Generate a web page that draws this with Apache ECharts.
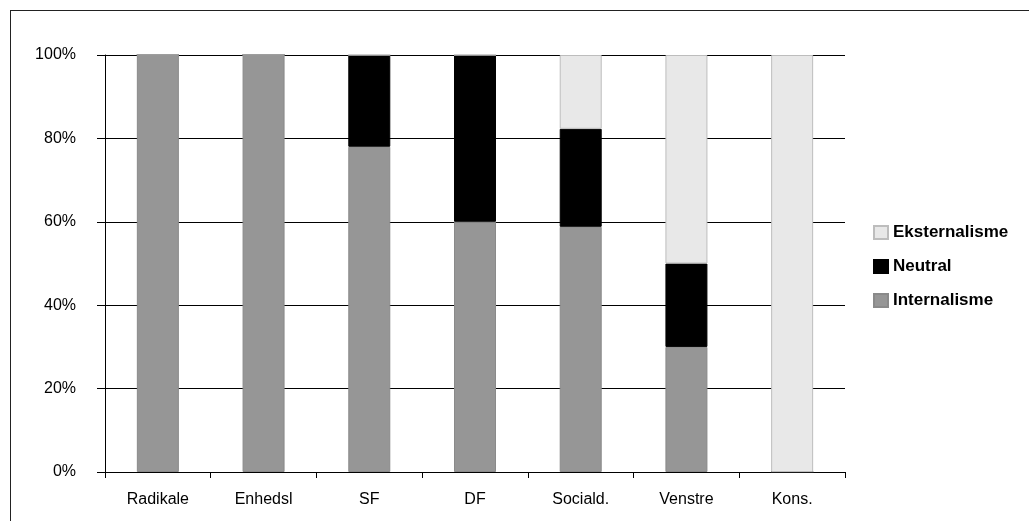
<!DOCTYPE html>
<html>
<head>
<meta charset="utf-8">
<script src="https://cdn.jsdelivr.net/npm/echarts@6/dist/echarts.min.js"></script>
<style>
  html, body { margin: 0; padding: 0; background: #fff; overflow: hidden; }
  #frame { position: absolute; left: 10px; top: 10px; width: 1100px; height: 600px; border: 1px solid #222; box-sizing: border-box; }
  #chart { position: absolute; left: 0; top: 0; width: 1029px; height: 521px; }
</style>
</head>
<body>
<div id="frame"></div>
<div id="chart"></div>
<script>
// Party categories along the x axis
const categories = ['Radikale', 'Enhedsl', 'SF', 'DF', 'Sociald.', 'Venstre', 'Kons.'];
// Share of statements per party (percent), stacked bottom to top
const internalisme = [100, 100, 78, 60, 58.8, 30, 0];
const neutral = [0, 0, 22, 40, 23.5, 20, 0];
const eksternalisme = [0, 0, 0, 0, 17.7, 50, 100];
// Y axis tick values
const yTicks = [0, 20, 40, 60, 80, 100];

const font = 'Arial, "Liberation Sans", sans-serif';
const chart = echarts.init(document.getElementById('chart'), null, { renderer: 'canvas' });

function bar(name, data, color, border) {
  return {
    name: name,
    type: 'bar',
    stack: 'total',
    data: data,
    barWidth: 42,
    itemStyle: { color: color, borderColor: border, borderWidth: 1 },
    emphasis: { disabled: true }
  };
}

chart.setOption({
  animation: false,
  backgroundColor: 'transparent',
  grid: { left: 105, right: 184, top: 55, bottom: 49, containLabel: false },
  legend: {
    orient: 'vertical',
    left: 868,
    top: 219,
    itemGap: 17,
    itemWidth: 14,
    itemHeight: 13,
    icon: 'rect',
    data: ['Eksternalisme', 'Neutral', 'Internalisme'],
    textStyle: { fontFamily: font, fontSize: 17, fontWeight: 'bold', color: '#000' }
  },
  xAxis: {
    type: 'category',
    data: categories,
    boundaryGap: true,
    axisLine: { show: true, lineStyle: { color: '#000', width: 1 } },
    axisTick: { show: true, alignWithLabel: false, length: 6, lineStyle: { color: '#000' } },
    axisLabel: { fontFamily: font, fontSize: 16, color: '#000', margin: 20 },
    splitLine: { show: false }
  },
  yAxis: {
    type: 'value',
    min: yTicks[0],
    max: yTicks[yTicks.length - 1],
    interval: 20,
    axisLine: { show: true, lineStyle: { color: '#000', width: 1 } },
    axisTick: { show: true, length: 8, lineStyle: { color: '#000' } },
    axisLabel: { fontFamily: font, fontSize: 16, color: '#000', margin: 29, formatter: v => v + '%' },
    splitLine: { show: true, lineStyle: { color: '#000', width: 1 } }
  },
  series: [
    bar('Internalisme', internalisme, '#969696', '#8a8a8a'),
    bar('Neutral', neutral, '#000000', '#000000'),
    bar('Eksternalisme', eksternalisme, '#e8e8e8', '#bdbdbd')
  ]
});
</script>
</body>
</html>
